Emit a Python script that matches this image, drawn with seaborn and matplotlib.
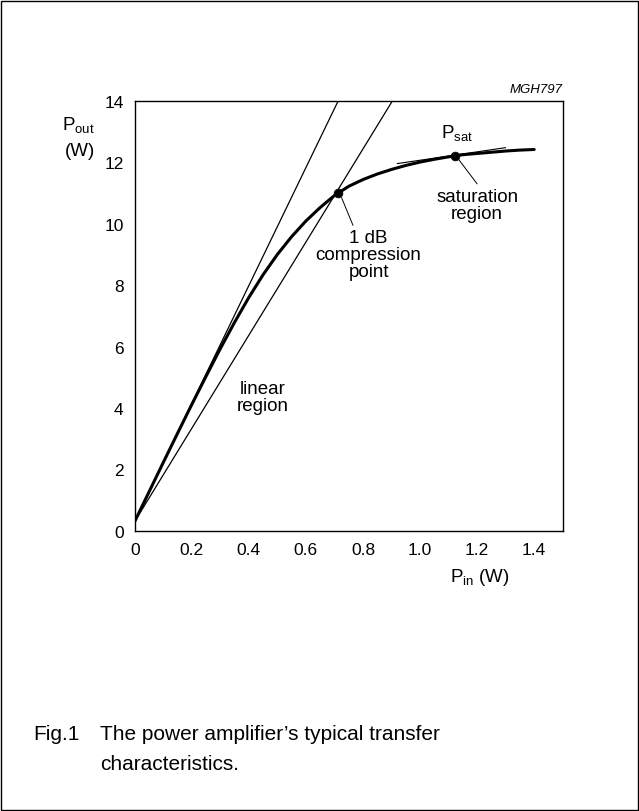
import matplotlib
matplotlib.use("Agg")
import matplotlib.pyplot as plt
import seaborn as sns
import pandas as pd
from matplotlib.patches import Rectangle

# transfer curve
p_in = [0.0, 0.05, 0.1, 0.15, 0.2, 0.25, 0.3, 0.35, 0.4, 0.45, 0.5, 0.55, 0.6, 0.65,
        0.7, 0.75, 0.8, 0.85, 0.9, 0.95, 1.0, 1.05, 1.1, 1.15, 1.2, 1.25, 1.3, 1.35, 1.4]
p_out = [0.3, 1.26, 2.22, 3.17, 4.11, 5.03, 5.93, 6.79, 7.6, 8.34, 9.0, 9.58, 10.09, 10.53,
         10.92, 11.22, 11.44, 11.62, 11.77, 11.9, 12.01, 12.1, 12.18, 12.25, 12.29, 12.33,
         12.37, 12.4, 12.42]

# straight reference lines (start, end)
small_signal_x = [0.0, 0.713]
small_signal_y = [0.3, 14.0]
one_db_x = [0.0, 0.903]
one_db_y = [0.3, 14.0]
psat_tangent_x = [0.92, 1.30]
psat_tangent_y = [11.96, 12.48]

# marked points
point_x = [0.713, 1.124]
point_y = [11.0, 12.22]

x_ticks = [0, 0.2, 0.4, 0.6, 0.8, 1.0, 1.2, 1.4]
x_labels = ["0", "0.2", "0.4", "0.6", "0.8", "1.0", "1.2", "1.4"]
y_ticks = [0, 2, 4, 6, 8, 10, 12, 14]

sns.set_style("white")
plt.rcParams["font.family"] = ["Liberation Sans", "DejaVu Sans"]
plt.rcParams["mathtext.default"] = "regular"
plt.rcParams["text.color"] = "black"

fig = plt.figure(figsize=(6.39, 8.12), dpi=100)
ax = fig.add_axes([0.2108, 0.3452, 0.6698, 0.5292])

curve = pd.DataFrame({"pin": p_in, "pout": p_out})
sns.lineplot(data=curve, x="pin", y="pout", ax=ax, color="black", linewidth=2.2)
sns.lineplot(x=small_signal_x, y=small_signal_y, ax=ax, color="black", linewidth=0.9)
sns.lineplot(x=one_db_x, y=one_db_y, ax=ax, color="black", linewidth=0.9)
sns.lineplot(x=psat_tangent_x, y=psat_tangent_y, ax=ax, color="black", linewidth=0.8)
sns.scatterplot(x=point_x, y=point_y, ax=ax, color="black", s=40, edgecolor="black", zorder=5)

ax.set_xlim(0, 1.5)
ax.set_ylim(0, 14)
ax.set_xticks(x_ticks)
ax.set_xticklabels(x_labels)
ax.set_yticks(y_ticks)
ax.tick_params(direction="in", length=6, width=0.8, labelsize=12.5, colors="black")
ax.tick_params(axis="x", pad=8)
ax.tick_params(axis="y", pad=8)
for s in ax.spines.values():
    s.set_color("black")
    s.set_linewidth(1.0)
ax.set_xlabel("")
ax.set_ylabel("")

# axis titles
fig.text(62 / 639, 1 - 125 / 812, r"P$_{out}$", fontsize=13.5, ha="left", va="center")
fig.text(80 / 639, 1 - 152 / 812, "(W)", fontsize=13.5, ha="center", va="center")
fig.text(480 / 639, 1 - 577 / 812, r"P$_{in}$ (W)", fontsize=13.5, ha="center", va="center")
fig.text(563 / 639, 1 - 90 / 812, "MGH797", fontsize=9.5, style="italic",
         ha="right", va="center")

# annotations
ax.text(1.13, 13.0, r"P$_{sat}$", fontsize=13.5, ha="center", va="center")
ax.text(1.2, 10.6, "saturation\nregion", fontsize=13.5, ha="center", va="center",
        linespacing=1.0)
ax.plot([1.135, 1.2], [12.1, 11.3], color="black", linewidth=0.7)
ax.text(0.82, 9.0, "1 dB\ncompression\npoint", fontsize=13.5, ha="center", va="center",
        linespacing=1.0)
ax.plot([0.725, 0.765], [10.85, 9.95], color="black", linewidth=0.7)
ax.text(0.45, 4.35, "linear\nregion", fontsize=13.5, ha="center", va="center",
        linespacing=1.0)

# caption
fig.text(33 / 639, 1 - 735 / 812, "Fig.1", fontsize=15, ha="left", va="center")
fig.text(100 / 639, 1 - 735 / 812, "The power amplifier\u2019s typical transfer",
         fontsize=15, ha="left", va="center")
fig.text(100 / 639, 1 - 765 / 812, "characteristics.", fontsize=15, ha="left", va="center")

# outer frame
fig.patches.append(Rectangle((0.001, 0.001), 0.997, 0.997, transform=fig.transFigure,
                             fill=False, edgecolor="black", linewidth=1.0))

fig.savefig("out.png", dpi=100)
